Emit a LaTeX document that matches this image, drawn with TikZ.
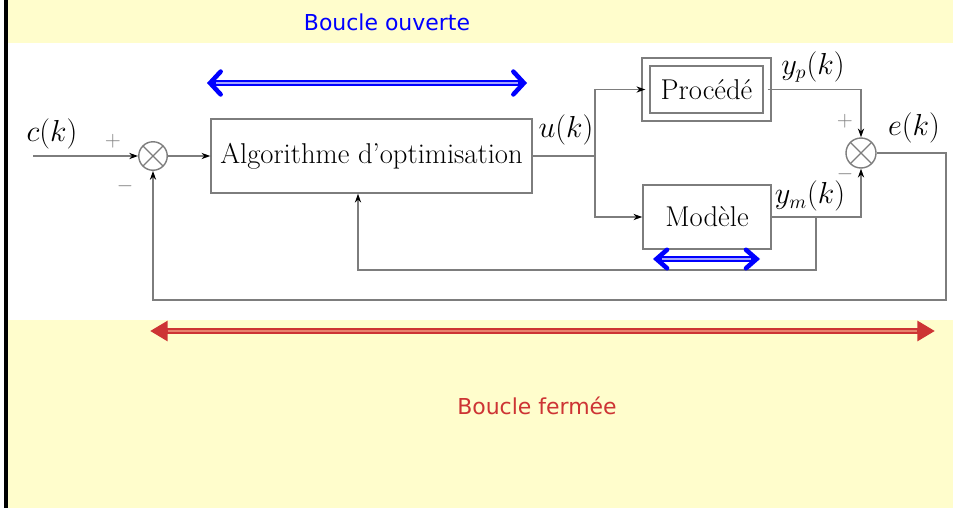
\documentclass[tikz,border=0pt]{standalone}
\usepackage{fontspec}
\usepackage{amsmath}
\usepackage{tikz}
\usetikzlibrary{positioning,calc,arrows.meta}
\newfontfamily\loopfont{DejaVu Sans}
\definecolor{wire}{RGB}{125,125,125}
\definecolor{band}{RGB}{255,253,204}
\definecolor{redloop}{RGB}{205,52,52}
\definecolor{redlight}{RGB}{232,130,110}
\tikzset{
  blk/.style={draw=wire,line width=0.8pt,fill=white,font=\fontsize{16.3}{19}\selectfont,inner sep=0pt},
  sumnode/.style={circle,draw=wire,line width=0.8pt,minimum size=0.57cm,inner sep=0pt,
    path picture={\draw[wire,line width=0.7pt] (path picture bounding box.north west)--(path picture bounding box.south east)
      (path picture bounding box.north east)--(path picture bounding box.south west);}},
  wireline/.style={draw=wire,line width=0.8pt},
  sig/.style={wireline,-{Stealth[length=5pt,width=3.5pt,black]}},
  lbl/.style={font=\fontsize{16}{19}\selectfont},
  sgn/.style={text=wire,font=\large},
  openarrow/.style={draw=blue,line width=3.2pt,
    {Straight Barb[length=6pt,width=#1,line width=2.6pt,line cap=round]}-{Straight Barb[length=6pt,width=#1,line width=2.6pt,line cap=round]}},
  openarrow/.default=13pt,
  openmid/.style={draw=white!65!blue,line width=0.7pt,shorten <=5pt,shorten >=5pt},
  closedarrow/.style={draw=redloop,line width=3.4pt,{Triangle[length=10pt,width=11pt]}-{Triangle[length=10pt,width=11pt]}},
  closedmid/.style={draw=redlight,line width=1pt,shorten <=10pt,shorten >=10pt,yshift=-0.035cm},
}
\begin{document}
\begin{tikzpicture}[x=0.02cm,y=-0.02cm]
	\useasboundingbox (0,0) rectangle (953,508);
	% bands
	\fill[band] (8,0) rectangle (953,43);
	\fill[white] (8,43) rectangle (953,320);
	\fill[band] (8,320) rectangle (953,508);
	\draw[black,line width=1.8pt] (6,0)--(6,508);
	
	\node[text=blue,font=\loopfont\fontsize{12.5}{15}\selectfont] (open) at (387,22) {Boucle ouverte};
	\node[text=redloop,font=\loopfont\fontsize{12.5}{15}\selectfont] (closed) at (537,406) {Boucle fermée};
	
	% blocks
	\node[sumnode] (s1) at (153,156) {};
	\node[blk,minimum width=6.42cm,minimum height=1.48cm] (algo) at (371.5,156) {Algorithme d'optimisation};
	\node[blk,minimum width=2.42cm,minimum height=1.1cm,double=white,double distance=3.6pt] (proc) at (706.5,89.5) {Procédé};
	\node[blk,minimum width=2.56cm,minimum height=1.28cm] (mod) at (707,217) {Modèle};
	\node[sumnode,minimum size=0.6cm] (s2) at (861,153) {};
	
	% labels
	\node[lbl] (c) at (52,134) {$c(k)$};
	\node[lbl] (u) at (566,130) {$u(k)$};
	\node[lbl] (yp) at (813,67) {$y_p(k)$};
	\node[lbl] (e) at (914,128) {$e(k)$};
	\node[lbl] (ym) at (810,196) {$y_m(k)$};
	\node[sgn] (p1) at (113,141) {$+$};
	\node[sgn] (m1) at (125,186) {$-$};
	\node[sgn] (p2) at (845,121) {$+$};
	\node[sgn] (m2) at (845,174) {$-$};
	
	% wires
	\coordinate (in) at (33,156);
	\coordinate (br) at (595,156);
	\coordinate (bm) at (816,217);
	\coordinate (fa) at (358,270);
	\coordinate (fb) at (946,300);
	\draw[sig] (in)--(s1);
	\draw[sig] (s1)--(algo);
	\draw[wireline] (algo.east)--(br);
	\draw[sig] (br) |- (proc.west);
	\draw[sig] (br) |- (mod.west);
	\draw[sig] (proc.east) -| (s2.north);
	\draw[sig] (mod.east) -| (s2.south);
	\draw[sig] (bm) |- (fa) -- (fa |- algo.south);
	\draw[sig] (s2.east) -| (fb) -| (s1.south);
	
	% loop arrows
	\coordinate (oa) at (207,83);
	\coordinate (ob) at (527,83);
	\coordinate (ma) at (653,259);
	\coordinate (mb) at (760,259);
	\coordinate (ca) at (150,331);
	\coordinate (cb) at (935,331);
	\draw[openarrow] (oa)--(ob);
	\draw[openmid] (oa)--(ob);
	\draw[openarrow=10.5pt] (ma)--(mb);
	\draw[openmid] (ma)--(mb);
	\draw[closedarrow] (ca)--(cb);
	\draw[closedmid] (ca)--(cb);
\end{tikzpicture}
\end{document}
